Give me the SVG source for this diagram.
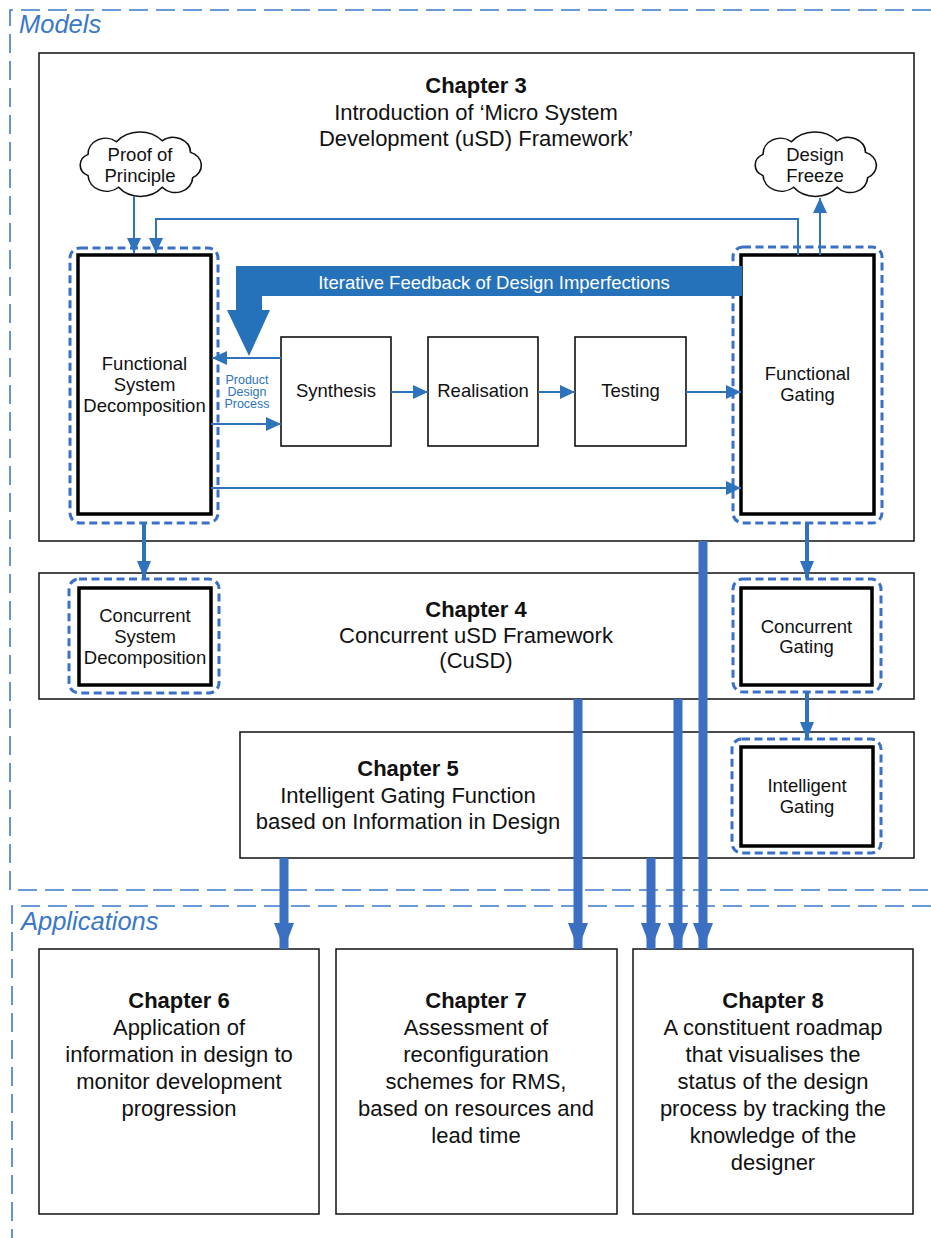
<svg xmlns="http://www.w3.org/2000/svg" xmlns:xlink="http://www.w3.org/1999/xlink" width="931" height="1238" viewBox="0 0 931 1238">
  <style>
    .txt { font-family: "Liberation Sans", Arial, Helvetica, sans-serif; fill: #111; text-anchor: middle; }
    .chap { font-size: 22px; }
    .bold { font-weight: bold; }
    .node { font-size: 18.5px; }
    .small { font-size: 12.5px; fill: #2E73BB; }
    .region-label { font-family: "Liberation Sans", Arial, sans-serif; font-style: italic; font-size: 25.5px; fill: #3A78C8; }
    .region { fill: none; stroke: #3A7BCA; stroke-width: 1.6; stroke-dasharray: 19 8; }
    .chapter-box { fill: #fff; stroke: #111; stroke-width: 1.5; }
    .halo { fill: none; stroke: #3A70C8; stroke-width: 3; stroke-dasharray: 8 4.5; }
    .core { fill: #fff; stroke: #000; stroke-width: 3.5; }
    .step { fill: #fff; stroke: #111; stroke-width: 1.6; }
    .cloud { fill: #fff; stroke: #111; stroke-width: 1.5; }
    .thin { fill: none; stroke: #2E73BB; stroke-width: 2; }
    .mid { fill: none; stroke: #2E73BB; stroke-width: 4; }
    .bar { fill: none; stroke: #3B6FC2; stroke-width: 9; }
    .band { fill: #2672BA; }
    .band-label { font-family: "Liberation Sans", Arial, sans-serif; font-size: 18.5px; fill: #fff; text-anchor: middle; }
  </style>
  <defs>
    <marker id="head-thin" markerUnits="userSpaceOnUse" markerWidth="15" markerHeight="14" refX="15" refY="7" orient="auto">
      <path d="M0,0 L15,7 L0,14 z" fill="#2E73BB"/>
    </marker>
    <marker id="head-mid" markerUnits="userSpaceOnUse" markerWidth="17" markerHeight="14" refX="17" refY="7" orient="auto">
      <path d="M0,0 L17,7 L0,14 z" fill="#2E73BB"/>
    </marker>
    <marker id="head-bar" markerUnits="userSpaceOnUse" markerWidth="26" markerHeight="20" refX="26" refY="10" orient="auto">
      <path d="M0,0 L26,10 L0,20 z" fill="#3B6FC2"/>
    </marker>
    <!-- eight-bump cloud outline, roughly 110 x 66 -->
    <path id="cloud-shape" d="M12 22 A16 16 0 0 1 38 9 A28 28 0 0 1 80 8 A16 16 0 0 1 106 20 A14 14 0 0 1 108 46 A16 16 0 0 1 80 56 A26 26 0 0 1 40 56 A17 17 0 0 1 12 44 A12 12 0 0 1 12 22 Z"/>
  </defs>

  <!-- chapter frames -->
  <g id="chapter3">
    <rect class="chapter-box" x="39" y="53" width="875" height="488"/>
    <text class="txt chap bold" x="476" y="93">Chapter 3</text>
    <text class="txt chap" x="476" y="120">Introduction of ‘Micro System</text>
    <text class="txt chap" x="476" y="146">Development (uSD) Framework’</text>
  </g>
  <g id="chapter4">
    <rect class="chapter-box" x="39" y="573" width="875" height="126"/>
    <text class="txt chap bold" x="476" y="617">Chapter 4</text>
    <text class="txt chap" x="476" y="643">Concurrent uSD Framework</text>
    <text class="txt chap" x="476" y="668">(CuSD)</text>
  </g>
  <g id="chapter5">
    <rect class="chapter-box" x="240" y="732" width="674" height="126"/>
    <text class="txt chap bold" x="408" y="776">Chapter 5</text>
    <text class="txt chap" x="408" y="803">Intelligent Gating Function</text>
    <text class="txt chap" x="408" y="829">based on Information in Design</text>
  </g>
  <g id="chapter6">
    <rect class="chapter-box" x="39" y="949" width="280" height="265"/>
    <text class="txt chap bold" x="179" y="1008">Chapter 6</text>
    <text class="txt chap" x="179" y="1035">Application of</text>
    <text class="txt chap" x="179" y="1062">information in design to</text>
    <text class="txt chap" x="179" y="1089">monitor development</text>
    <text class="txt chap" x="179" y="1116">progression</text>
  </g>
  <g id="chapter7">
    <rect class="chapter-box" x="336" y="949" width="281" height="265"/>
    <text class="txt chap bold" x="476" y="1008">Chapter 7</text>
    <text class="txt chap" x="476" y="1035">Assessment of</text>
    <text class="txt chap" x="476" y="1062">reconfiguration</text>
    <text class="txt chap" x="476" y="1089">schemes for RMS,</text>
    <text class="txt chap" x="476" y="1116">based on resources and</text>
    <text class="txt chap" x="476" y="1143">lead time</text>
  </g>
  <g id="chapter8">
    <rect class="chapter-box" x="633" y="949" width="280" height="265"/>
    <text class="txt chap bold" x="773" y="1008">Chapter 8</text>
    <text class="txt chap" x="773" y="1035">A constituent roadmap</text>
    <text class="txt chap" x="773" y="1062">that visualises the</text>
    <text class="txt chap" x="773" y="1089">status of the design</text>
    <text class="txt chap" x="773" y="1116">process by tracking the</text>
    <text class="txt chap" x="773" y="1143">knowledge of the</text>
    <text class="txt chap" x="773" y="1170">designer</text>
  </g>

  <!-- dashed region outlines -->
  <g id="region-models">
    <path class="region" d="M931 10 H10 V890 H931"/>
    <text class="region-label" x="19" y="33">Models</text>
  </g>
  <g id="region-applications">
    <path class="region" d="M931 906 H12 V1238"/>
    <text class="region-label" x="21" y="930">Applications</text>
  </g>

  <!-- clouds -->
  <g id="proof-of-principle">
    <use xlink:href="#cloud-shape" class="cloud" transform="translate(75 133) scale(1.09 0.97)"/>
    <text class="txt node" x="140" y="161">Proof of</text>
    <text class="txt node" x="140" y="182">Principle</text>
  </g>
  <g id="design-freeze">
    <use xlink:href="#cloud-shape" class="cloud" transform="translate(750 133) scale(1.09 0.97)"/>
    <text class="txt node" x="815" y="161">Design</text>
    <text class="txt node" x="815" y="182">Freeze</text>
  </g>

  <!-- core nodes -->
  <g id="functional-system-decomposition">
    <rect class="halo" x="70" y="248" width="148" height="275" rx="10"/>
    <rect class="core" x="78" y="255" width="133" height="259"/>
    <text class="txt node" x="144.5" y="370">Functional</text>
    <text class="txt node" x="144.5" y="391">System</text>
    <text class="txt node" x="144.5" y="412">Decomposition</text>
  </g>
  <g id="functional-gating">
    <rect class="halo" x="733" y="247" width="149" height="276" rx="10"/>
    <rect class="core" x="741" y="255" width="133" height="259"/>
    <text class="txt node" x="807.5" y="380">Functional</text>
    <text class="txt node" x="807.5" y="401">Gating</text>
  </g>
  <g id="concurrent-system-decomposition">
    <rect class="halo" x="69" y="579" width="150" height="114" rx="10"/>
    <rect class="core" x="79" y="588" width="132" height="97"/>
    <text class="txt node" x="145" y="622">Concurrent</text>
    <text class="txt node" x="145" y="643">System</text>
    <text class="txt node" x="145" y="664">Decomposition</text>
  </g>
  <g id="concurrent-gating">
    <rect class="halo" x="733" y="579" width="148" height="113" rx="10"/>
    <rect class="core" x="741" y="588" width="131" height="97"/>
    <text class="txt node" x="806.5" y="633">Concurrent</text>
    <text class="txt node" x="806.5" y="653">Gating</text>
  </g>
  <g id="intelligent-gating">
    <rect class="halo" x="732" y="739" width="149" height="114" rx="10"/>
    <rect class="core" x="741" y="747" width="132" height="99"/>
    <text class="txt node" x="807" y="792">Intelligent</text>
    <text class="txt node" x="807" y="813">Gating</text>
  </g>

  <!-- product design process steps -->
  <g id="synthesis">
    <rect class="step" x="281" y="337" width="110" height="109"/>
    <text class="txt node" x="336" y="397">Synthesis</text>
  </g>
  <g id="realisation">
    <rect class="step" x="428" y="337" width="110" height="109"/>
    <text class="txt node" x="483" y="397">Realisation</text>
  </g>
  <g id="testing">
    <rect class="step" x="575" y="337" width="111" height="109"/>
    <text class="txt node" x="630.5" y="397">Testing</text>
  </g>

  <!-- connectors -->
  <g id="connectors">
    <!-- iterative feedback band -->
    <path class="band" d="M742 266 H236 V310 H227 L249 356 L270 310 H262 V296 H742 Z"/>
    <text class="band-label" x="494" y="289">Iterative Feedback of Design Imperfections</text>

    <!-- thin loop arrows -->
    <path class="thin" d="M134 196 V253" marker-end="url(#head-thin)"/>
    <path class="thin" d="M798 255 V219 H156 V253" marker-end="url(#head-thin)"/>
    <path class="thin" d="M820 255 V198" marker-end="url(#head-thin)"/>
    <path class="thin" d="M281 358 H212" marker-end="url(#head-thin)"/>
    <path class="thin" d="M211 424 H281" marker-end="url(#head-thin)"/>
    <path class="thin" d="M391 392 H428" marker-end="url(#head-thin)"/>
    <path class="thin" d="M538 392 H575" marker-end="url(#head-thin)"/>
    <path class="thin" d="M686 392 H741" marker-end="url(#head-thin)"/>
    <path class="thin" d="M211 488 H741" marker-end="url(#head-thin)"/>
    <text class="txt small" x="247" y="384">Product</text>
    <text class="txt small" x="247" y="396">Design</text>
    <text class="txt small" x="247" y="408">Process</text>

    <!-- chapter-to-chapter node links -->
    <path class="mid" d="M144 523 V578" marker-end="url(#head-mid)"/>
    <path class="mid" d="M807 523 V578" marker-end="url(#head-mid)"/>
    <path class="mid" d="M807 692 V739" marker-end="url(#head-mid)"/>

    <!-- links into the application chapters -->
    <path class="bar" d="M284 858 V949" marker-end="url(#head-bar)"/>
    <path class="bar" d="M578 699 V949" marker-end="url(#head-bar)"/>
    <path class="bar" d="M651 858 V949" marker-end="url(#head-bar)"/>
    <path class="bar" d="M678 699 V949" marker-end="url(#head-bar)"/>
    <path class="bar" d="M703 541 V949" marker-end="url(#head-bar)"/>
  </g>
</svg>
